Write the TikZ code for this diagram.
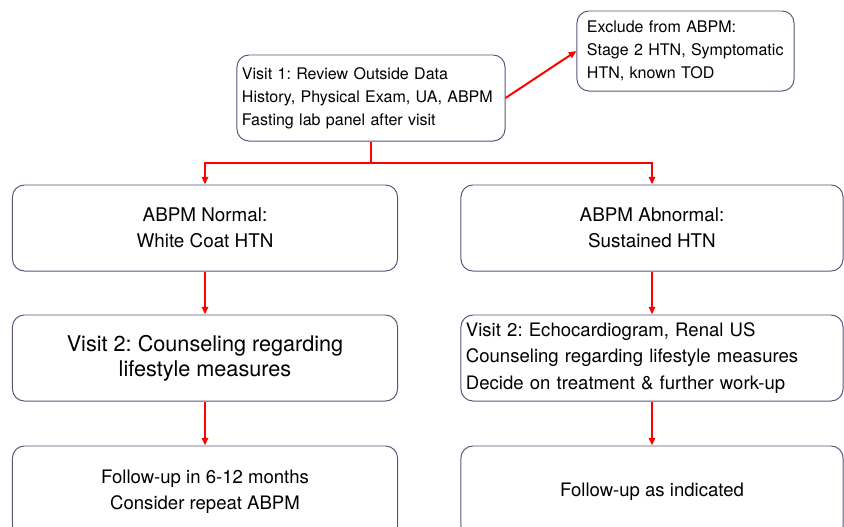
\documentclass[tikz,border=0pt]{standalone}
\usepackage{fontspec}
\setmainfont{TeX Gyre Heros}
\usetikzlibrary{arrows.meta}
\definecolor{boxline}{RGB}{88,86,120}
\frenchspacing
\tikzset{
  box/.style={draw=boxline, line width=0.7pt, rounded corners=8.5pt, fill=white, inner sep=0pt},
  flow/.style={draw=red, line width=1.4pt, -{Triangle[length=5.5pt,width=4.5pt]}},
  link/.style={draw=red, line width=1.4pt},
}

\begin{document}
\begin{tikzpicture}[x=0.025cm,y=-0.025cm]
    \clip (0,0) rectangle (844,527);
    % first visit and exclusions
    \node[box, minimum width=6.7cm, minimum height=2.15cm, text width=6.45cm, align=left,
          font=\fontsize{11.4}{16.2}\selectfont] (visitone) at (371,98)
          {Visit 1: Review Outside Data\\History, Physical Exam, UA, ABPM\\Fasting lab panel after visit};
    \node[box, minimum width=5.425cm, minimum height=2cm, text width=4.925cm, align=left,
          font=\fontsize{11.4}{16.2}\selectfont] (exclude) at (685.5,51)
          {Exclude from ABPM:\\Stage 2 HTN, Symptomatic\\HTN, known TOD};
    % ABPM result
    \node[box, minimum width=9.625cm, minimum height=2.15cm, align=center,
          font=\fontsize{13.4}{18.3}\selectfont] (normal) at (205,228)
          {ABPM Normal:\\White Coat HTN};
    \node[box, minimum width=9.55cm, minimum height=2.15cm, align=center,
          font=\fontsize{13.4}{18.3}\selectfont] (abnormal) at (652,228)
          {ABPM Abnormal:\\Sustained HTN};
    % second visit
    \node[box, minimum width=9.625cm, minimum height=2.15cm, align=center,
          font=\fontsize{15.4}{18}\selectfont] (counsel) at (205,358)
          {Visit 2: Counseling regarding\\lifestyle measures};
    \node[box, minimum width=9.55cm, minimum height=2.15cm, text width=9.3cm, align=left,
          font=\fontsize{13.2}{18.6}\selectfont] (workup) at (652,358)
          {Visit 2: Echocardiogram, Renal US\\Counseling regarding lifestyle measures\\Decide on treatment \& further work-up};
    % follow-up
    \node[box, minimum width=9.625cm, minimum height=2.3cm, align=center,
          font=\fontsize{13.2}{18.6}\selectfont] (followa) at (205,492)
          {Follow-up in 6-12 months\\Consider repeat ABPM};
    \node[box, minimum width=9.55cm, minimum height=2.3cm, align=center,
          font=\fontsize{13.2}{18.6}\selectfont] (followb) at (652,492)
          {Follow-up as indicated};

    \coordinate (split) at (371,163);
    \draw[link] (visitone) -- (split);
    \draw[flow] (split) -| (normal);
    \draw[flow] (split) -| (abnormal);
    \draw[flow] (visitone.east) -- (exclude.west);
    \draw[flow] (normal) -- (counsel);
    \draw[flow] (counsel) -- (followa);
    \draw[flow] (abnormal) -- (workup);
    \draw[flow] (workup) -- (followb);
\end{tikzpicture}
\end{document}
